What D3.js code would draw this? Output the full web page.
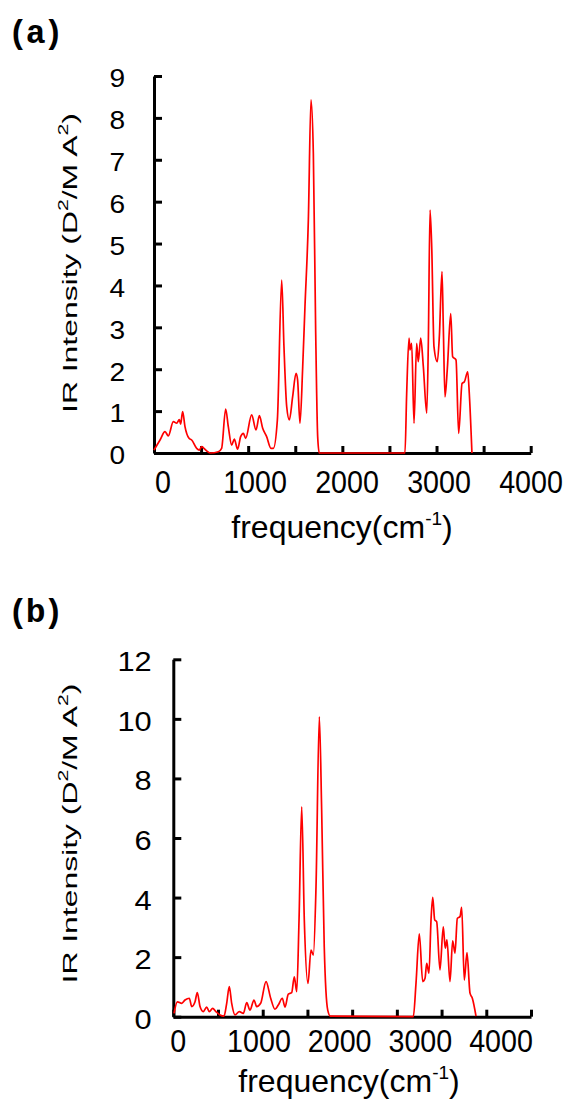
<!DOCTYPE html>
<html><head><meta charset="utf-8">
<script src="https://cdn.jsdelivr.net/npm/d3@7"></script>
<style>
html,body{margin:0;padding:0;background:#fff;}
svg{display:block;}
text{font-family:"Liberation Sans",Arial,Helvetica,sans-serif;fill:#000;}
.ax path,.ax line{stroke:#000 !important;stroke-width:3px !important;}
</style></head>
<body>
<svg id="c" width="574" height="1119"></svg>
<script>
// ---------- data ----------
const panelLabels = ["(a)", "(b)"];
const xTicksMajor = [0, 1000, 2000, 3000, 4000];
const yTicksA = [0,1,2,3,4,5,6,7,8,9];
const yTicksB = [0,2,4,6,8,10,12];
const xTitle = "frequency(cm";
const xTitleSup = "-1";
const yTitleParts = ["IR Intensity (D", "2", "/M A", "2", ")"];

const freqA = [0,64,117,152,205,241,269,283,304,329,372,400,453,481,506,531,559,595,683,718,
 761,789,825,853,888,920,949,973,1037,1083,1119,1154,1196,1242,1267,1310,1356,1380,1409,1437,
 1472,1508,1525,1550,1579,1603,1639,1667,1692,1716,1738,1755,2665,2683,2708,2718,2736,2761,2789,2806,
 2832,2860,2896,2913,2931,2949,2973,3008,3030,3058,3072,3090,3115,3151,3171,3207,3235,3271,3296,3331,
 3348,3376];
const intensA = [0.07,0.31,0.51,0.41,0.75,0.71,0.80,0.69,0.99,0.63,0.35,0.31,0.11,0.07,0.15,0.11,0.05,0,0.03,0.11,
 1.05,0.63,0.19,0.33,0.09,0.39,0.47,0.35,0.91,0.55,0.89,0.59,0.39,0.11,0.11,0.79,4.13,2.54,1.11,0.79,
 1.34,1.90,1.74,0.71,2.06,3.49,5.56,8.43,7.15,3.02,0.39,0,0,1.42,2.74,2.46,2.62,0.71,2.62,2.18,
 2.74,2.06,0.95,2.62,5.80,4.92,2.54,2.18,2.78,4.33,3.02,1.34,2.02,3.33,2.30,2.22,0.47,1.66,1.70,1.94,
 1.42,0];

const freqB = [8,45,94,131,179,206,243,268,299,335,373,403,440,477,522,567,597,626,653,690,
 738,783,821,858,902,932,977,1037,1089,1137,1174,1219,1249,1286,1324,1353,1380,1406,1436,1465,
 1506,1540,1566,1596,1633,1659,1688,1727,1756,2684,2714,2751,2789,2815,2834,2859,2882,2901,2923,2945,
 2982,3019,3041,3060,3094,3124,3150,3176,3206,3225,3254,3284,3318,3344,3385];
const intensB = [0.11,0.50,0.45,0.56,0.62,0.34,0.50,0.81,0.34,0.17,0.32,0.17,0.28,0.17,0.06,0.02,0.45,1.01,0.45,0.06,
 0.17,0.11,0.47,0.22,0.56,0.34,0.45,1.18,0.62,0.25,0.39,0.62,0.32,0.76,0.81,1.34,0.84,3.25,7.05,3.25,
 1.12,2.24,2.07,4.37,10.07,6.94,2.35,0.22,0.02,0,1.12,2.78,1.18,1.29,1.79,1.46,3.25,4.01,3.25,3.19,
 1.57,3.02,2.30,2.58,1.18,2.55,2.13,3.30,3.36,3.67,1.23,2.15,0.79,0.62,0.02];

// ---------- layout ----------
const panels = [
 { label: panelLabels[0], labelY: 43, freq: freqA, inten: intensA, ymax: 9, yTicks: yTicksA,
   x0: 154, x1: 530.7, y0: 453, y1: 76,
   xLab0: 163, xLab1: 531, xLabBase: 493.3,
   yLabRight: 125, yLabSize: 26, yLabSx: 1.08,
   xTitleX: 342, xTitleBase: 538, yTitleCy: 263 },
 { label: panelLabels[1], labelY: 622, freq: freqB, inten: intensB, ymax: 12, yTicks: yTicksB,
   x0: 173.3, x1: 531, y0: 1016.7, y1: 659.3,
   xLab0: 178.3, xLab1: 501, xLabBase: 1051.7,
   yLabRight: 151.7, yLabSize: 28, yLabSx: 1.1,
   xTitleX: 349, xTitleBase: 1092, yTitleCy: 833.5 }
];

const svg = d3.select("#c");

panels.forEach(p => {
  const g = svg.append("g");
  const x = d3.scaleLinear().domain([0, 4000]).range([p.x0, p.x1]);
  const y = d3.scaleLinear().domain([0, p.ymax]).range([p.y0, p.y1]);
  const xl = d3.scaleLinear().domain([0, 4000]).range([p.xLab0, p.xLab1]);

  // panel label
  g.append("text").attr("x", 8).attr("y", p.labelY)
    .style("font-family", "'Liberation Mono','Courier New',monospace")
    .style("font-weight", "bold").style("font-size", "33px")
    .style("letter-spacing", "-2px").text(p.label);

  // x tick labels
  g.selectAll(".xl").data(xTicksMajor).enter().append("text")
    .attr("class", "xl")
    .attr("transform", d => `translate(${xl(d)},${p.xLabBase}) scale(0.94,1)`)
    .attr("text-anchor", "middle").style("font-size", "30.5px").text(d => d);

  // y tick labels
  g.selectAll(".yl").data(p.yTicks).enter().append("text")
    .attr("class", "yl")
    .attr("transform", d => `translate(${p.yLabRight},${y(d) + 2 + p.yLabSize * 0.358}) scale(${p.yLabSx},1)`)
    .attr("text-anchor", "end").style("font-size", p.yLabSize + "px").text(d => d);

  // x title
  const xt = g.append("text").attr("x", p.xTitleX).attr("y", p.xTitleBase)
    .attr("text-anchor", "middle").style("font-size", "32px");
  xt.append("tspan").text(xTitle);
  xt.append("tspan").attr("dy", -13).style("font-size", "19px").text(xTitleSup);
  xt.append("tspan").attr("dy", 13).text(")");

  // y title
  const yt = g.append("text").attr("text-anchor", "middle").style("font-size", "21px");
  yTitleParts.forEach((s, i) => {
    const sup = i === 1 || i === 3;
    const ts = yt.append("tspan").text(s);
    if (sup) ts.attr("dy", -9).style("font-size", "14px");
    else if (i > 0) ts.attr("dy", 9);
  });
  const w = yt.node().getComputedTextLength() || 190;
  const sx = 300 / w;
  yt.attr("transform", `translate(76.7,${p.yTitleCy}) rotate(-90) scale(${sx},1)`);

  // axes
  const xAxis = d3.axisBottom(x).tickValues(d3.range(0, 4001, 500))
    .tickSizeInner(-7).tickSizeOuter(0).tickFormat("");
  const yAxis = d3.axisLeft(y).tickValues(p.yTicks)
    .tickSizeInner(-8).tickSizeOuter(0).tickFormat("");
  const gx = svg.append("g").attr("class", "ax").attr("stroke-width", 3)
    .attr("transform", `translate(0,${p.y0})`).call(xAxis);
  const gy = svg.append("g").attr("class", "ax").attr("stroke-width", 3)
    .attr("transform", `translate(${p.x0},0)`).call(yAxis);
  [gx, gy].forEach(a => a.selectAll("path,line")
    .attr("stroke", "#000").attr("stroke-width", 3)
    .style("stroke", "#000").style("stroke-width", "3px"));

  // data line
  const pts = p.freq.map((f, i) => [f, p.inten[i]]);
  svg.append("path").datum(pts)
    .style("fill", "none").style("stroke", "#f00").style("stroke-width", "1.7px")
    .attr("d", d3.line().x(d => x(d[0])).y(d => y(d[1])).curve(d3.curveMonotoneX));
});
</script>
</body></html>
